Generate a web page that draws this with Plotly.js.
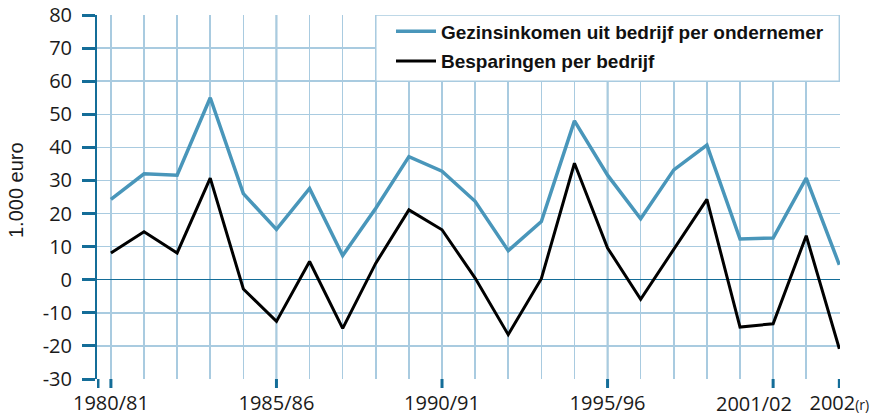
<!DOCTYPE html>
<html>
<head>
<meta charset="utf-8">
<script src="https://cdn.plot.ly/plotly-3.0.1.min.js"></script>
<style>
  html, body { margin: 0; padding: 0; background: #fff; }
  #chart { width: 882px; height: 418px; }
</style>
</head>
<body>
<div id="chart"></div>
<script>
// ---- data ----
const periodCount = 23; // 1980/81 ... 2002(r)
const gezinsinkomen = [24.3, 32.0, 31.6, 55.0, 26.0, 15.2, 27.6, 7.3, 21.6, 37.2, 32.8, 23.7, 8.8, 17.6, 48.0, 31.6, 18.4, 33.2, 40.7, 12.3, 12.6, 30.7, 4.5];
const besparingen   = [8.1, 14.5, 8.1, 30.7, -2.8, -12.6, 5.5, -14.7, 5.0, 21.1, 15.1, 0.5, -16.6, 0.3, 35.2, 9.6, -5.9, 9.2, 24.3, -14.3, -13.3, 13.3, -20.9];
const tickIndex = [0, 5, 10, 15, 20, 22];
const tickLabels = ['1980/81', '1985/86', '1990/91', '1995/96', '2001/02', '2002<span style="font-size:14px">(r)</span>'];
const yTickValues = [-30, -20, -10, 0, 10, 20, 30, 40, 50, 60, 70, 80];
const seriesNames = ['Gezinsinkomen uit bedrijf per ondernemer', 'Besparingen per bedrijf'];
const yUnit = '1.000 euro';

// ---- styling ----
const blue = '#4996ba';
const gridLight = '#a9cbe0';
const gridDark = '#2b7ba6';
const axisBlue = '#146d98';
const xRange = [-0.42, 22.02];
const yRange = [-30, 80];
const tickFont = { family: 'Open Sans, Liberation Sans, sans-serif', size: 20, color: '#1a1a1a' };
const nudged = tickIndex.length - 2; // label set slightly left of its tick, as in the reference

const xs = gezinsinkomen.map((_, i) => i);
const allIdx = Array.from({length: periodCount}, (_, i) => i);
const allText = allIdx.map(i => {
  const k = tickIndex.indexOf(i);
  return (k < 0 || k === nudged) ? '' : tickLabels[k];
});

const traces = [
  { x: xs, y: gezinsinkomen, name: seriesNames[0], type: 'scatter', mode: 'lines',
    line: { color: blue, width: 3.5 }, legendgroup: 'a' },
  { x: xs, y: besparingen, name: seriesNames[1], type: 'scatter', mode: 'lines',
    line: { color: '#000', width: 3 }, legendgroup: 'b' }
];

const shapes = [];
// darker vertical lines at the labelled periods (not the right edge)
tickIndex.slice(0, -1).forEach(i => shapes.push({
  type: 'line', xref: 'x', yref: 'paper', x0: i, x1: i, y0: 0, y1: 1,
  line: { color: gridDark, width: 1.5 }, layer: 'between'
}));
// white legend panel
shapes.push({
  type: 'rect', xref: 'x', yref: 'y', x0: 8, x1: xRange[1] - 0.02, y0: 60, y1: yRange[1],
  fillcolor: '#fff', line: { color: gridLight, width: 1.5 }, layer: 'between'
});
// tick marks below the plot at labelled periods and at the axis origin
[xRange[0] + 0.03].concat(tickIndex).forEach(i => shapes.push({
  type: 'line', xref: 'x', yref: 'paper', x0: i, x1: i, y0: 0, y1: -9 / 364,
  line: { color: axisBlue, width: 3 }, layer: 'above'
}));

const layout = {
  width: 882, height: 418,
  margin: { l: 97, r: 42, t: 15, b: 39 },
  paper_bgcolor: '#fff', plot_bgcolor: '#fff',
  font: tickFont,
  showlegend: true,
  legend: {
    x: (391 - 97) / 743, y: 1.007, xanchor: 'left', yanchor: 'top',
    bgcolor: 'rgba(0,0,0,0)', borderwidth: 0, tracegroupgap: 2, itemwidth: 40,
    font: { family: 'Liberation Sans, Arial, sans-serif', size: 19, color: '#111', weight: 'bold' }
  },
  xaxis: {
    range: xRange, tickmode: 'array', tickvals: allIdx, ticktext: allText, tickangle: 0,
    ticks: '', showgrid: true, gridcolor: gridLight, gridwidth: 1.5,
    zeroline: false, showline: false, ticklabelstandoff: 10,
    tickfont: tickFont
  },
  yaxis: {
    range: yRange, tickmode: 'array', tickvals: yTickValues, ticktext: yTickValues.map(String),
    ticks: 'outside', ticklen: 13, tickwidth: 3, tickcolor: axisBlue,
    showline: true, linecolor: axisBlue, linewidth: 2,
    showgrid: true, gridcolor: gridLight, gridwidth: 1.5,
    zeroline: true, zerolinecolor: axisBlue, zerolinewidth: 1.5,
    ticklabelstandoff: 6,
    tickfont: tickFont
  },
  annotations: [
    {
      text: yUnit, textangle: -90, showarrow: false,
      xref: 'paper', yref: 'paper', x: (16 - 97) / 743, y: (379 - 190) / 364,
      xanchor: 'center', yanchor: 'middle',
      font: { family: 'Liberation Sans, Arial, sans-serif', size: 20, color: '#1a1a1a' }
    },
    {
      text: tickLabels[nudged], showarrow: false,
      xref: 'x', yref: 'paper', x: tickIndex[nudged], xshift: -19,
      y: -24 / 364, xanchor: 'center', yanchor: 'middle',
      font: tickFont
    }
  ],
  shapes: shapes
};

Plotly.newPlot('chart', traces, layout, { displayModeBar: false, staticPlot: true });
</script>
</body>
</html>
